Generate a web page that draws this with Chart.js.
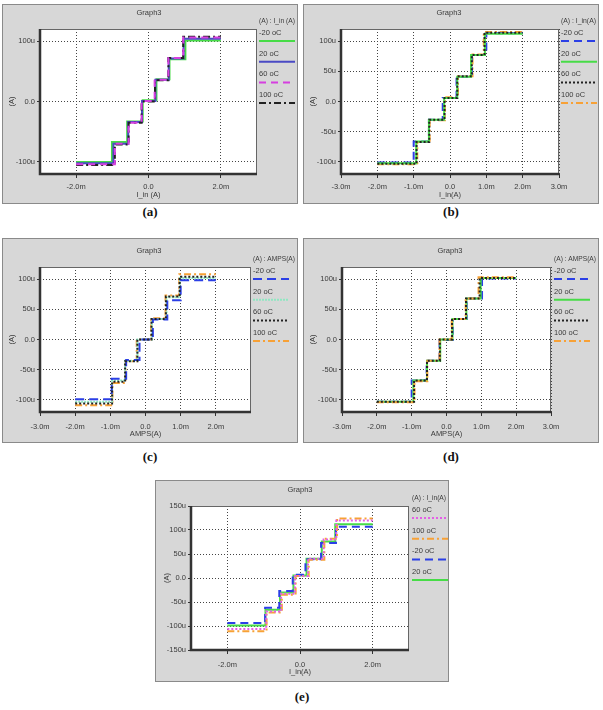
<!DOCTYPE html>
<html>
<head>
<meta charset="utf-8">
<script src="https://cdn.jsdelivr.net/npm/chart.js@4.4.1/dist/chart.umd.min.js"></script>
<style>
  body { margin: 0; background: #fff; width: 603px; height: 710px; position: relative; overflow: hidden; }
  canvas { position: absolute; background: #d7d7d7; }
  .cap { position: absolute; font: bold 13px "Liberation Serif", serif; color: #111; transform: translate(-50%, -50%); }
</style>
</head>
<body>
<canvas id="pa" width="296" height="200" style="left:2px;top:4px"></canvas>
<canvas id="pb" width="296" height="200" style="left:303px;top:4px"></canvas>
<canvas id="pc" width="296" height="205" style="left:2px;top:238px"></canvas>
<canvas id="pd" width="296" height="205" style="left:303px;top:238px"></canvas>
<canvas id="pe" width="294" height="202" style="left:155px;top:480px"></canvas>
<div class="cap" style="left:150px;top:212px">(a)</div>
<div class="cap" style="left:451px;top:212px">(b)</div>
<div class="cap" style="left:150px;top:457px">(c)</div>
<div class="cap" style="left:451px;top:457px">(d)</div>
<div class="cap" style="left:302px;top:697px">(e)</div>
<script>
// x in mA, y in uA; each x is where the level in the same slot starts
// (a)
const aX_m20 = [-2, -1.01, -0.59, -0.16, 0.22, 0.58, 1.02, 2];
const aY_m20 = [-100, -67, -33, 2, 37, 70, 101, 101];
const aX_20  = [-2, -0.97, -0.56, -0.18, 0.19, 0.56, 0.97, 2];
const aY_20  = [-102, -70, -34, 1, 36, 71, 104, 104];
const aX_60  = [-2, -0.93, -0.55, -0.19, 0.17, 0.55, 0.96, 2];
const aY_60  = [-104, -70, -35, 1, 36, 72, 106, 106];
const aX_100 = [-2, -0.93, -0.55, -0.19, 0.18, 0.55, 0.96, 2];
const aY_100 = [-105, -71, -35, 0, 35, 72, 107, 107];
// (b)
const bX_m20 = [-2, -1.0, -0.58, -0.2, 0.18, 0.6, 1.0, 2];
const bY_m20 = [-101, -66, -30, 6, 41, 77, 113, 113];
const bX_20  = [-2, -0.93, -0.58, -0.16, 0.2, 0.58, 0.96, 2];
const bY_20  = [-102, -66, -30, 6, 41, 77, 112, 112];
const bX_60  = [-2, -0.92, -0.57, -0.15, 0.2, 0.6, 0.95, 2];
const bY_60  = [-103, -67, -30, 6, 42, 77, 114, 114];
const bX_100 = [-2, -0.9, -0.56, -0.14, 0.22, 0.62, 0.93, 2];
const bY_100 = [-104, -67, -31, 7, 42, 78, 115, 115];
// (c)
const cX_m20 = [-2, -0.96, -0.55, -0.17, 0.21, 0.62, 1.0, 2];
const cY_m20 = [-99, -65, -34, 0, 33, 65, 98, 98];
const cX_20  = [-2, -0.95, -0.58, -0.23, 0.18, 0.6, 0.98, 2];
const cY_20  = [-103, -68, -35, 0, 34, 70, 102, 102];
const cX_60  = [-2, -0.95, -0.58, -0.23, 0.17, 0.58, 0.97, 2];
const cY_60  = [-106, -70, -36, 0, 34, 71, 104, 104];
const cX_100 = [-2, -0.94, -0.57, -0.25, 0.16, 0.57, 0.96, 2];
const cY_100 = [-109, -72, -36, 0, 35, 73, 108, 108];
// (d)
const dX_m20 = [-2, -1.0, -0.57, -0.2, 0.18, 0.58, 1.02, 2];
const dY_m20 = [-103, -68, -35, -1, 34, 68, 101, 101];
const dX_20  = [-2, -0.95, -0.56, -0.18, 0.17, 0.57, 0.98, 2];
const dY_20  = [-103, -68, -35, 0, 34, 68, 102, 102];
const dX_60  = [-2, -0.93, -0.56, -0.19, 0.16, 0.56, 0.95, 2];
const dY_60  = [-103, -68, -35, 0, 34, 68, 102, 102];
const dX_100 = [-2, -0.92, -0.55, -0.2, 0.15, 0.55, 0.92, 2];
const dY_100 = [-104, -69, -35, 0, 34, 68, 103, 103];
// (e)
const eX_60  = [-2, -0.93, -0.52, -0.14, 0.22, 0.65, 1.0, 2];
const eY_60  = [-106, -70, -33, 4, 40, 80, 120, 120];
const eX_100 = [-2, -0.92, -0.5, -0.12, 0.24, 0.67, 1.02, 2];
const eY_100 = [-111, -72, -35, 4, 38, 82, 124, 124];
const eX_m20 = [-2, -0.96, -0.57, -0.2, 0.15, 0.58, 0.99, 2];
const eY_m20 = [-94, -62, -27, 7, 39, 73, 107, 107];
const eX_20  = [-2, -0.95, -0.55, -0.18, 0.18, 0.6, 0.97, 2];
const eY_20  = [-99, -66, -30, 5, 40, 76, 112, 112];

const xTicksWide = [-3, -2, -1, 0, 1, 2, 3];
const xTicksC = [-3, -2, -1, 0, 1, 2];
const xTicksNarrow = [-2, 0, 2];
const yTicks100 = [-100, 0, 100];
const yTicks50 = [-100, -50, 0, 50, 100];
const yTicks150 = [-150, -100, -50, 0, 50, 100, 150];

const FAMILY = '"Liberation Sans", Arial, sans-serif';
const FONT = '7.5px ' + FAMILY;
const TXT = '#3a3a3a';

const panelPlugin = {
  id: 'panel',
  beforeDraw(chart) {
    const { ctx, chartArea: a } = chart;
    ctx.save();
    ctx.fillStyle = '#fff';
    ctx.fillRect(a.left, a.top, a.right - a.left, a.bottom - a.top);
    ctx.restore();
  },
  afterDraw(chart, args, o) {
    const { ctx, chartArea: a, width, height } = chart;
    ctx.save();
    ctx.strokeStyle = '#8a8a8a';
    ctx.lineWidth = 1;
    ctx.strokeRect(0.5, 0.5, width - 1, height - 1);
    ctx.strokeStyle = '#666';
    ctx.strokeRect(a.left + 0.5, a.top + 0.5, a.right - a.left - 1, a.bottom - a.top - 1);
    ctx.strokeStyle = '#333';
    ctx.lineWidth = 2.5;
    ctx.beginPath();
    ctx.moveTo(a.left, a.top);
    ctx.lineTo(a.left, a.bottom);
    ctx.lineTo(a.right, a.bottom);
    ctx.stroke();

    ctx.fillStyle = TXT;
    ctx.font = FONT;
    ctx.textAlign = 'center';
    ctx.textBaseline = 'middle';
    ctx.fillText('Graph3', o.titleX, o.titleY);

    // legend: label above its line sample
    ctx.textAlign = 'left';
    ctx.fillText(o.header, o.lx, o.ly, width - o.lx - 3);
    chart.data.datasets.forEach((ds, i) => {
      const y = o.ly + 12 + i * 20.7;
      ctx.fillStyle = TXT;
      ctx.fillText(ds.label, o.lx, y);
      ctx.strokeStyle = ds.borderColor;
      ctx.lineWidth = 2;
      ctx.setLineDash(ds.borderDash || []);
      ctx.beginPath();
      ctx.moveTo(o.lx, y + 8);
      ctx.lineTo(o.lx + 36, y + 8);
      ctx.stroke();
      ctx.setLineDash([]);
    });
    ctx.restore();
  }
};

function series(label, xs, ys, color, dash, order) {
  return {
    label: label,
    data: xs.map((x, i) => ({ x: x, y: ys[i] })),
    borderColor: color,
    borderDash: dash,
    borderWidth: 2,
    stepped: 'before',
    pointRadius: 0,
    fill: false,
    order: order
  };
}

function makePanel(id, p) {
  const cv = document.getElementById(id);
  const W = cv.width, H = cv.height;
  new Chart(cv, {
    type: 'line',
    data: { datasets: p.datasets },
    options: {
      responsive: false,
      animation: false,
      events: [],
      layout: { padding: { left: 0, top: p.area.top, right: W - p.area.right, bottom: 0 } },
      plugins: {
        legend: { display: false },
        tooltip: { enabled: false },
        panel: p.deco
      },
      scales: {
        x: {
          type: 'linear', min: -3, max: 3,
          afterBuildTicks: s => { s.ticks = p.xTicks.map(v => ({ value: v })); },
          afterFit: s => { s.height = H - p.area.bottom; },
          ticks: {
            autoSkip: false, maxRotation: 0, padding: p.xPad,
            color: TXT, font: { family: FAMILY, size: 7.5 },
            callback: v => v === 0 ? '0.0' : v.toFixed(1) + 'm'
          },
          grid: { color: '#444', lineWidth: 1, tickLength: 4, tickColor: '#333', tickBorderDash: [] },
          border: { display: false, dash: [1, 2] },
          title: {
            display: true, text: p.xTitle, color: TXT,
            font: { family: FAMILY, size: 7.5 },
            padding: { top: 0, bottom: p.xTitlePad }
          }
        },
        y: {
          type: 'linear', min: -p.yMax, max: p.yMax,
          afterBuildTicks: s => { s.ticks = p.yTicks.map(v => ({ value: v })); },
          afterFit: s => { s.width = p.area.left; },
          ticks: {
            autoSkip: false, padding: 2,
            color: TXT, font: { family: FAMILY, size: 7.5 },
            callback: v => v === 0 ? '0.0' : v + 'u'
          },
          grid: { color: '#444', lineWidth: 1, tickLength: 3, tickColor: '#333', tickBorderDash: [] },
          border: { display: false, dash: [1, 2] },
          title: {
            display: true, text: '(A)', color: TXT,
            font: { family: FAMILY, size: 7.5 },
            padding: { top: p.yTitlePad, bottom: 0 }
          }
        }
      }
    },
    plugins: [panelPlugin]
  });
}

const GREEN = '#47dc47', SLATE = '#4a4ac4', MAGENTA = '#d63fe0', BLACK = '#222';
const BLUE = '#2b3fe6', ORANGE = '#f7a136', MINT = '#8fe8c2', PINK = '#e35fe6';
const DASH = [8, 5], DOT = [2, 2], DASHDOT = [7, 3, 2, 3];

makePanel('pa', {
  area: { left: 38, right: 255, top: 25, bottom: 170 },
  xTicks: xTicksNarrow, yTicks: yTicks100, yMax: 120,
  xPad: 4, xTitle: 'I_in (A)', xTitlePad: 4.5, yTitlePad: 5.5,
  deco: { titleX: 147, titleY: 8.5, header: '(A) : I_in (A)', lx: 257, ly: 17 },
  datasets: [
    series('-20 oC', aX_m20, aY_m20, GREEN, [], 3),
    series('20 oC', aX_20, aY_20, SLATE, [], 2),
    series('60 oC', aX_60, aY_60, MAGENTA, [7, 5], 0),
    series('100 oC', aX_100, aY_100, BLACK, DASHDOT, 1)
  ]
});

makePanel('pb', {
  area: { left: 38, right: 256, top: 25, bottom: 170 },
  xTicks: xTicksWide, yTicks: yTicks50, yMax: 120,
  xPad: 4.5, xTitle: 'I_in(A)', xTitlePad: 4.5, yTitlePad: 5.5,
  deco: { titleX: 146, titleY: 8.5, header: '(A) : I_in(A)', lx: 258, ly: 17 },
  datasets: [
    series('-20 oC', bX_m20, bY_m20, BLUE, DASH, 2),
    series('20 oC', bX_20, bY_20, GREEN, [], 1),
    series('60 oC', bX_60, bY_60, BLACK, DOT, 0),
    series('100 oC', bX_100, bY_100, ORANGE, DASHDOT, 3)
  ]
});

makePanel('pc', {
  area: { left: 38, right: 249, top: 29, bottom: 174 },
  xTicks: xTicksC, yTicks: yTicks50, yMax: 120,
  xPad: 6, xTitle: 'AMPS(A)', xTitlePad: 4.5, yTitlePad: 5.5,
  deco: { titleX: 147, titleY: 12.5, header: '(A) : AMPS(A)', lx: 251, ly: 21 },
  datasets: [
    series('-20 oC', cX_m20, cY_m20, BLUE, [9, 5], 1),
    series('20 oC', cX_20, cY_20, MINT, [2, 1], 2),
    series('60 oC', cX_60, cY_60, BLACK, DOT, 0),
    series('100 oC', cX_100, cY_100, ORANGE, DASHDOT, 3)
  ]
});

makePanel('pd', {
  area: { left: 39, right: 248, top: 29, bottom: 174 },
  xTicks: xTicksWide, yTicks: yTicks50, yMax: 120,
  xPad: 6, xTitle: 'AMPS(A)', xTitlePad: 4.5, yTitlePad: 5.5,
  deco: { titleX: 147, titleY: 12.5, header: '(A) : AMPS(A)', lx: 251, ly: 21 },
  datasets: [
    series('-20 oC', dX_m20, dY_m20, BLUE, DASH, 3),
    series('20 oC', dX_20, dY_20, GREEN, [], 2),
    series('60 oC', dX_60, dY_60, BLACK, DOT, 0),
    series('100 oC', dX_100, dY_100, ORANGE, DASHDOT, 1)
  ]
});

makePanel('pe', {
  area: { left: 36, right: 254, top: 26, bottom: 170 },
  xTicks: xTicksNarrow, yTicks: yTicks150, yMax: 150,
  xPad: 6, xTitle: 'I_in(A)', xTitlePad: 5.5, yTitlePad: 7,
  deco: { titleX: 145, titleY: 10, header: '(A) : I_in(A)', lx: 257, ly: 18 },
  datasets: [
    series('60 oC', eX_60, eY_60, PINK, DOT, 0),
    series('100 oC', eX_100, eY_100, ORANGE, DASHDOT, 1),
    series('-20 oC', eX_m20, eY_m20, BLUE, DASH, 2),
    series('20 oC', eX_20, eY_20, GREEN, [], 3)
  ]
});
</script>
</body>
</html>
